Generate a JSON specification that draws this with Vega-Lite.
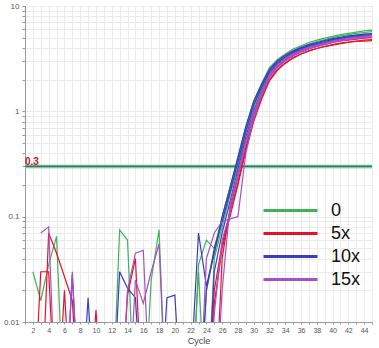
{
"$schema":"https://vega.github.io/schema/vega-lite/v6.json",
"width":347,"height":316,
"autosize":"none",
"padding":{"left":25,"top":6,"right":7,"bottom":26},
"background":"white",
"config":{"view":{"stroke":"#bbbbbb"},"font":"Liberation Sans",
 "axisX":{"labelOverlap":false,"labelFlush":false,"labelFontSize":7,"labelColor":"#555555","tickSize":2,"tickColor":"#999999","domainColor":"#999999","labelPadding":2,"gridColor":"#ebebeb","titleFontSize":9,"titleFontWeight":"normal","titleColor":"#444444","titlePadding":3},
 "axisY":{"labelOverlap":false,"labelFontSize":8,"labelColor":"#555555","tickSize":3,"tickColor":"#999999","domainColor":"#999999","labelPadding":3,"gridColor":"#ebebeb"}},
"datasets":{
"curves":[
{"s":"G1","g":"0","c":2,"v":0.03},{"s":"G1","g":"0","c":3,"v":0.016},{"s":"G1","g":"0","c":4,"v":0.035},{"s":"G1","g":"0","c":5,"v":0.065},{"s":"G1","g":"0","c":6,"v":0.001},{"s":"G1","g":"0","c":23,"v":0.001},{"s":"G1","g":"0","c":24,"v":0.02},{"s":"G1","g":"0","c":25,"v":0.045},{"s":"G1","g":"0","c":26,"v":0.09},{"s":"G1","g":"0","c":27,"v":0.18},{"s":"G1","g":"0","c":28,"v":0.34},{"s":"G1","g":"0","c":29,"v":0.7},{"s":"G1","g":"0","c":30,"v":1.25},{"s":"G1","g":"0","c":31,"v":1.85},{"s":"G1","g":"0","c":32,"v":2.6},{"s":"G1","g":"0","c":33,"v":3.1},{"s":"G1","g":"0","c":34,"v":3.5},{"s":"G1","g":"0","c":35,"v":3.9},{"s":"G1","g":"0","c":36,"v":4.2},{"s":"G1","g":"0","c":37,"v":4.5},{"s":"G1","g":"0","c":38,"v":4.75},{"s":"G1","g":"0","c":39,"v":4.95},{"s":"G1","g":"0","c":40,"v":5.15},{"s":"G1","g":"0","c":41,"v":5.35},{"s":"G1","g":"0","c":42,"v":5.5},{"s":"G1","g":"0","c":43,"v":5.65},{"s":"G1","g":"0","c":44,"v":5.8},{"s":"G1","g":"0","c":45,"v":5.9},
{"s":"G2","g":"0","c":12,"v":0.001},{"s":"G2","g":"0","c":13,"v":0.075},{"s":"G2","g":"0","c":14,"v":0.06},{"s":"G2","g":"0","c":15,"v":0.001},{"s":"G2","g":"0","c":16,"v":0.001},{"s":"G2","g":"0","c":17,"v":0.025},{"s":"G2","g":"0","c":18,"v":0.075},{"s":"G2","g":"0","c":19,"v":0.001},{"s":"G2","g":"0","c":22,"v":0.001},{"s":"G2","g":"0","c":23,"v":0.035},{"s":"G2","g":"0","c":24,"v":0.06},{"s":"G2","g":"0","c":25,"v":0.05},{"s":"G2","g":"0","c":26,"v":0.1},{"s":"G2","g":"0","c":27,"v":0.19},{"s":"G2","g":"0","c":28,"v":0.36},{"s":"G2","g":"0","c":29,"v":0.7},{"s":"G2","g":"0","c":30,"v":1.2},{"s":"G2","g":"0","c":31,"v":1.75},{"s":"G2","g":"0","c":32,"v":2.5},{"s":"G2","g":"0","c":33,"v":3.0},{"s":"G2","g":"0","c":34,"v":3.4},{"s":"G2","g":"0","c":35,"v":3.75},{"s":"G2","g":"0","c":36,"v":4.05},{"s":"G2","g":"0","c":37,"v":4.35},{"s":"G2","g":"0","c":38,"v":4.6},{"s":"G2","g":"0","c":39,"v":4.8},{"s":"G2","g":"0","c":40,"v":5.0},{"s":"G2","g":"0","c":41,"v":5.2},{"s":"G2","g":"0","c":42,"v":5.35},{"s":"G2","g":"0","c":43,"v":5.5},{"s":"G2","g":"0","c":44,"v":5.6},{"s":"G2","g":"0","c":45,"v":5.7},
{"s":"G3","g":"0","c":22,"v":0.001},{"s":"G3","g":"0","c":23,"v":0.03},{"s":"G3","g":"0","c":24,"v":0.001},{"s":"G3","g":"0","c":25,"v":0.04},{"s":"G3","g":"0","c":26,"v":0.08},{"s":"G3","g":"0","c":27,"v":0.16},{"s":"G3","g":"0","c":28,"v":0.3},{"s":"G3","g":"0","c":29,"v":0.62},{"s":"G3","g":"0","c":30,"v":1.1},{"s":"G3","g":"0","c":31,"v":1.65},{"s":"G3","g":"0","c":32,"v":2.4},{"s":"G3","g":"0","c":33,"v":2.9},{"s":"G3","g":"0","c":34,"v":3.3},{"s":"G3","g":"0","c":35,"v":3.65},{"s":"G3","g":"0","c":36,"v":3.95},{"s":"G3","g":"0","c":37,"v":4.2},{"s":"G3","g":"0","c":38,"v":4.45},{"s":"G3","g":"0","c":39,"v":4.65},{"s":"G3","g":"0","c":40,"v":4.85},{"s":"G3","g":"0","c":41,"v":5.0},{"s":"G3","g":"0","c":42,"v":5.15},{"s":"G3","g":"0","c":43,"v":5.3},{"s":"G3","g":"0","c":44,"v":5.4},{"s":"G3","g":"0","c":45,"v":5.5},
{"s":"R1","g":"5x","c":2,"v":0.001},{"s":"R1","g":"5x","c":3,"v":0.03},{"s":"R1","g":"5x","c":4,"v":0.03},{"s":"R1","g":"5x","c":5,"v":0.001},{"s":"R1","g":"5x","c":6,"v":0.02},{"s":"R1","g":"5x","c":7,"v":0.001},{"s":"R1","g":"5x","c":9,"v":0.001},{"s":"R1","g":"5x","c":10,"v":0.013},{"s":"R1","g":"5x","c":11,"v":0.001},{"s":"R1","g":"5x","c":24,"v":0.001},{"s":"R1","g":"5x","c":25,"v":0.02},{"s":"R1","g":"5x","c":26,"v":0.055},{"s":"R1","g":"5x","c":27,"v":0.11},{"s":"R1","g":"5x","c":28,"v":0.21},{"s":"R1","g":"5x","c":29,"v":0.45},{"s":"R1","g":"5x","c":30,"v":0.85},{"s":"R1","g":"5x","c":31,"v":1.35},{"s":"R1","g":"5x","c":32,"v":2.0},{"s":"R1","g":"5x","c":33,"v":2.5},{"s":"R1","g":"5x","c":34,"v":2.9},{"s":"R1","g":"5x","c":35,"v":3.25},{"s":"R1","g":"5x","c":36,"v":3.5},{"s":"R1","g":"5x","c":37,"v":3.75},{"s":"R1","g":"5x","c":38,"v":3.95},{"s":"R1","g":"5x","c":39,"v":4.1},{"s":"R1","g":"5x","c":40,"v":4.25},{"s":"R1","g":"5x","c":41,"v":4.4},{"s":"R1","g":"5x","c":42,"v":4.5},{"s":"R1","g":"5x","c":43,"v":4.6},{"s":"R1","g":"5x","c":44,"v":4.65},{"s":"R1","g":"5x","c":45,"v":4.7},
{"s":"R2","g":"5x","c":3,"v":0.001},{"s":"R2","g":"5x","c":4,"v":0.07},{"s":"R2","g":"5x","c":5,"v":0.045},{"s":"R2","g":"5x","c":6,"v":0.027},{"s":"R2","g":"5x","c":7,"v":0.016},{"s":"R2","g":"5x","c":8,"v":0.001},{"s":"R2","g":"5x","c":13,"v":0.001},{"s":"R2","g":"5x","c":14,"v":0.018},{"s":"R2","g":"5x","c":15,"v":0.04},{"s":"R2","g":"5x","c":16,"v":0.001},{"s":"R2","g":"5x","c":24,"v":0.001},{"s":"R2","g":"5x","c":25,"v":0.015},{"s":"R2","g":"5x","c":26,"v":0.05},{"s":"R2","g":"5x","c":27,"v":0.1},{"s":"R2","g":"5x","c":28,"v":0.2},{"s":"R2","g":"5x","c":29,"v":0.42},{"s":"R2","g":"5x","c":30,"v":0.8},{"s":"R2","g":"5x","c":31,"v":1.3},{"s":"R2","g":"5x","c":32,"v":1.95},{"s":"R2","g":"5x","c":33,"v":2.45},{"s":"R2","g":"5x","c":34,"v":2.85},{"s":"R2","g":"5x","c":35,"v":3.2},{"s":"R2","g":"5x","c":36,"v":3.5},{"s":"R2","g":"5x","c":37,"v":3.75},{"s":"R2","g":"5x","c":38,"v":3.95},{"s":"R2","g":"5x","c":39,"v":4.15},{"s":"R2","g":"5x","c":40,"v":4.3},{"s":"R2","g":"5x","c":41,"v":4.45},{"s":"R2","g":"5x","c":42,"v":4.55},{"s":"R2","g":"5x","c":43,"v":4.65},{"s":"R2","g":"5x","c":44,"v":4.75},{"s":"R2","g":"5x","c":45,"v":4.8},
{"s":"R3","g":"5x","c":25,"v":0.001},{"s":"R3","g":"5x","c":26,"v":0.04},{"s":"R3","g":"5x","c":27,"v":0.12},{"s":"R3","g":"5x","c":28,"v":0.24},{"s":"R3","g":"5x","c":29,"v":0.5},{"s":"R3","g":"5x","c":30,"v":0.92},{"s":"R3","g":"5x","c":31,"v":1.45},{"s":"R3","g":"5x","c":32,"v":2.15},{"s":"R3","g":"5x","c":33,"v":2.65},{"s":"R3","g":"5x","c":34,"v":3.05},{"s":"R3","g":"5x","c":35,"v":3.4},{"s":"R3","g":"5x","c":36,"v":3.7},{"s":"R3","g":"5x","c":37,"v":3.95},{"s":"R3","g":"5x","c":38,"v":4.15},{"s":"R3","g":"5x","c":39,"v":4.35},{"s":"R3","g":"5x","c":40,"v":4.5},{"s":"R3","g":"5x","c":41,"v":4.65},{"s":"R3","g":"5x","c":42,"v":4.75},{"s":"R3","g":"5x","c":43,"v":4.85},{"s":"R3","g":"5x","c":44,"v":4.95},{"s":"R3","g":"5x","c":45,"v":5.0},
{"s":"B1","g":"10x","c":6,"v":0.001},{"s":"B1","g":"10x","c":7,"v":0.028},{"s":"B1","g":"10x","c":8,"v":0.001},{"s":"B1","g":"10x","c":9,"v":0.017},{"s":"B1","g":"10x","c":10,"v":0.001},{"s":"B1","g":"10x","c":12,"v":0.001},{"s":"B1","g":"10x","c":13,"v":0.03},{"s":"B1","g":"10x","c":14,"v":0.021},{"s":"B1","g":"10x","c":15,"v":0.017},{"s":"B1","g":"10x","c":16,"v":0.001},{"s":"B1","g":"10x","c":18,"v":0.001},{"s":"B1","g":"10x","c":19,"v":0.017},{"s":"B1","g":"10x","c":20,"v":0.018},{"s":"B1","g":"10x","c":21,"v":0.001},{"s":"B1","g":"10x","c":22,"v":0.003},{"s":"B1","g":"10x","c":23,"v":0.07},{"s":"B1","g":"10x","c":24,"v":0.022},{"s":"B1","g":"10x","c":25,"v":0.045},{"s":"B1","g":"10x","c":26,"v":0.1},{"s":"B1","g":"10x","c":27,"v":0.19},{"s":"B1","g":"10x","c":28,"v":0.37},{"s":"B1","g":"10x","c":29,"v":0.72},{"s":"B1","g":"10x","c":30,"v":1.25},{"s":"B1","g":"10x","c":31,"v":1.8},{"s":"B1","g":"10x","c":32,"v":2.5},{"s":"B1","g":"10x","c":33,"v":3.0},{"s":"B1","g":"10x","c":34,"v":3.4},{"s":"B1","g":"10x","c":35,"v":3.75},{"s":"B1","g":"10x","c":36,"v":4.05},{"s":"B1","g":"10x","c":37,"v":4.3},{"s":"B1","g":"10x","c":38,"v":4.5},{"s":"B1","g":"10x","c":39,"v":4.7},{"s":"B1","g":"10x","c":40,"v":4.9},{"s":"B1","g":"10x","c":41,"v":5.05},{"s":"B1","g":"10x","c":42,"v":5.2},{"s":"B1","g":"10x","c":43,"v":5.3},{"s":"B1","g":"10x","c":44,"v":5.4},{"s":"B1","g":"10x","c":45,"v":5.45},
{"s":"B2","g":"10x","c":23,"v":0.001},{"s":"B2","g":"10x","c":24,"v":0.02},{"s":"B2","g":"10x","c":25,"v":0.05},{"s":"B2","g":"10x","c":26,"v":0.09},{"s":"B2","g":"10x","c":27,"v":0.17},{"s":"B2","g":"10x","c":28,"v":0.33},{"s":"B2","g":"10x","c":29,"v":0.65},{"s":"B2","g":"10x","c":30,"v":1.15},{"s":"B2","g":"10x","c":31,"v":1.7},{"s":"B2","g":"10x","c":32,"v":2.4},{"s":"B2","g":"10x","c":33,"v":2.9},{"s":"B2","g":"10x","c":34,"v":3.3},{"s":"B2","g":"10x","c":35,"v":3.65},{"s":"B2","g":"10x","c":36,"v":3.95},{"s":"B2","g":"10x","c":37,"v":4.2},{"s":"B2","g":"10x","c":38,"v":4.4},{"s":"B2","g":"10x","c":39,"v":4.6},{"s":"B2","g":"10x","c":40,"v":4.8},{"s":"B2","g":"10x","c":41,"v":4.95},{"s":"B2","g":"10x","c":42,"v":5.1},{"s":"B2","g":"10x","c":43,"v":5.2},{"s":"B2","g":"10x","c":44,"v":5.3},{"s":"B2","g":"10x","c":45,"v":5.35},
{"s":"B3","g":"10x","c":24,"v":0.001},{"s":"B3","g":"10x","c":25,"v":0.03},{"s":"B3","g":"10x","c":26,"v":0.07},{"s":"B3","g":"10x","c":27,"v":0.14},{"s":"B3","g":"10x","c":28,"v":0.28},{"s":"B3","g":"10x","c":29,"v":0.57},{"s":"B3","g":"10x","c":30,"v":1.02},{"s":"B3","g":"10x","c":31,"v":1.55},{"s":"B3","g":"10x","c":32,"v":2.3},{"s":"B3","g":"10x","c":33,"v":2.8},{"s":"B3","g":"10x","c":34,"v":3.2},{"s":"B3","g":"10x","c":35,"v":3.55},{"s":"B3","g":"10x","c":36,"v":3.85},{"s":"B3","g":"10x","c":37,"v":4.1},{"s":"B3","g":"10x","c":38,"v":4.3},{"s":"B3","g":"10x","c":39,"v":4.5},{"s":"B3","g":"10x","c":40,"v":4.7},{"s":"B3","g":"10x","c":41,"v":4.85},{"s":"B3","g":"10x","c":42,"v":5.0},{"s":"B3","g":"10x","c":43,"v":5.1},{"s":"B3","g":"10x","c":44,"v":5.2},{"s":"B3","g":"10x","c":45,"v":5.25},
{"s":"P1","g":"15x","c":3,"v":0.07},{"s":"P1","g":"15x","c":4,"v":0.08},{"s":"P1","g":"15x","c":5,"v":0.001},{"s":"P1","g":"15x","c":13,"v":0.001},{"s":"P1","g":"15x","c":14,"v":0.02},{"s":"P1","g":"15x","c":15,"v":0.045},{"s":"P1","g":"15x","c":16,"v":0.048},{"s":"P1","g":"15x","c":17,"v":0.001},{"s":"P1","g":"15x","c":24,"v":0.001},{"s":"P1","g":"15x","c":25,"v":0.012},{"s":"P1","g":"15x","c":26,"v":0.06},{"s":"P1","g":"15x","c":27,"v":0.11},{"s":"P1","g":"15x","c":28,"v":0.24},{"s":"P1","g":"15x","c":29,"v":0.5},{"s":"P1","g":"15x","c":30,"v":0.95},{"s":"P1","g":"15x","c":31,"v":1.5},{"s":"P1","g":"15x","c":32,"v":2.2},{"s":"P1","g":"15x","c":33,"v":2.7},{"s":"P1","g":"15x","c":34,"v":3.1},{"s":"P1","g":"15x","c":35,"v":3.45},{"s":"P1","g":"15x","c":36,"v":3.75},{"s":"P1","g":"15x","c":37,"v":4.0},{"s":"P1","g":"15x","c":38,"v":4.2},{"s":"P1","g":"15x","c":39,"v":4.4},{"s":"P1","g":"15x","c":40,"v":4.6},{"s":"P1","g":"15x","c":41,"v":4.75},{"s":"P1","g":"15x","c":42,"v":4.9},{"s":"P1","g":"15x","c":43,"v":5.0},{"s":"P1","g":"15x","c":44,"v":5.1},{"s":"P1","g":"15x","c":45,"v":5.2},
{"s":"P2","g":"15x","c":6,"v":0.001},{"s":"P2","g":"15x","c":7,"v":0.03},{"s":"P2","g":"15x","c":8,"v":0.001},{"s":"P2","g":"15x","c":14,"v":0.001},{"s":"P2","g":"15x","c":15,"v":0.025},{"s":"P2","g":"15x","c":16,"v":0.015},{"s":"P2","g":"15x","c":17,"v":0.03},{"s":"P2","g":"15x","c":18,"v":0.055},{"s":"P2","g":"15x","c":19,"v":0.001},{"s":"P2","g":"15x","c":25,"v":0.001},{"s":"P2","g":"15x","c":26,"v":0.02},{"s":"P2","g":"15x","c":27,"v":0.13},{"s":"P2","g":"15x","c":28,"v":0.26},{"s":"P2","g":"15x","c":29,"v":0.53},{"s":"P2","g":"15x","c":30,"v":0.98},{"s":"P2","g":"15x","c":31,"v":1.5},{"s":"P2","g":"15x","c":32,"v":2.25},{"s":"P2","g":"15x","c":33,"v":2.75},{"s":"P2","g":"15x","c":34,"v":3.15},{"s":"P2","g":"15x","c":35,"v":3.5},{"s":"P2","g":"15x","c":36,"v":3.8},{"s":"P2","g":"15x","c":37,"v":4.05},{"s":"P2","g":"15x","c":38,"v":4.25},{"s":"P2","g":"15x","c":39,"v":4.45},{"s":"P2","g":"15x","c":40,"v":4.65},{"s":"P2","g":"15x","c":41,"v":4.8},{"s":"P2","g":"15x","c":42,"v":4.95},{"s":"P2","g":"15x","c":43,"v":5.05},{"s":"P2","g":"15x","c":44,"v":5.15},{"s":"P2","g":"15x","c":45,"v":5.25},
{"s":"P3","g":"15x","c":23,"v":0.001},{"s":"P3","g":"15x","c":24,"v":0.04},{"s":"P3","g":"15x","c":25,"v":0.07},{"s":"P3","g":"15x","c":26,"v":0.09},{"s":"P3","g":"15x","c":27,"v":0.095},{"s":"P3","g":"15x","c":28,"v":0.1},{"s":"P3","g":"15x","c":29,"v":0.4},{"s":"P3","g":"15x","c":30,"v":0.85},{"s":"P3","g":"15x","c":31,"v":1.4},{"s":"P3","g":"15x","c":32,"v":2.1},{"s":"P3","g":"15x","c":33,"v":2.6},{"s":"P3","g":"15x","c":34,"v":3.0},{"s":"P3","g":"15x","c":35,"v":3.35},{"s":"P3","g":"15x","c":36,"v":3.65},{"s":"P3","g":"15x","c":37,"v":3.9},{"s":"P3","g":"15x","c":38,"v":4.1},{"s":"P3","g":"15x","c":39,"v":4.3},{"s":"P3","g":"15x","c":40,"v":4.5},{"s":"P3","g":"15x","c":41,"v":4.65},{"s":"P3","g":"15x","c":42,"v":4.8},{"s":"P3","g":"15x","c":43,"v":4.9},{"s":"P3","g":"15x","c":44,"v":5.0},{"s":"P3","g":"15x","c":45,"v":5.1}
],
"thr":[{"t":0.3,"c":1,"label":"0.3"}]
},
"layer":[
{"data":{"name":"thr"},"mark":{"type":"rule","stroke":"#a6dcc6","strokeWidth":4},
 "encoding":{"y":{"field":"t","type":"quantitative","scale":{"type":"log","domain":[0.01,10],"nice":false},
   "axis":{"values":[0.01,0.02,0.03,0.04,0.05,0.06,0.07,0.08,0.09,0.1,0.2,0.3,0.4,0.5,0.6,0.7,0.8,0.9,1,2,3,4,5,6,7,8,9,10],
     "format":"~g","labelExpr":"datum.value == 0.01 || datum.value == 0.1 || datum.value == 1 || datum.value == 10 ? datum.label : ''",
     "title":null}}}},
{"data":{"name":"thr"},"mark":{"type":"rule","stroke":"#2b7d5c","strokeWidth":1.6},
 "encoding":{"y":{"field":"t","type":"quantitative"}}},
{"data":{"name":"curves"},"mark":{"type":"line","strokeWidth":1.2,"clip":true},
 "encoding":{
  "x":{"field":"c","type":"quantitative","scale":{"domain":[1,45],"nice":false},
    "axis":{"values":[1,2,3,4,5,6,7,8,9,10,11,12,13,14,15,16,17,18,19,20,21,22,23,24,25,26,27,28,29,30,31,32,33,34,35,36,37,38,39,40,41,42,43,44,45],
      "labelExpr":"datum.value % 2 == 0 ? datum.label : ''","title":"Cycle"}},
  "y":{"field":"v","type":"quantitative"},
  "detail":{"field":"s"},
  "color":{"field":"g","type":"nominal","scale":{"domain":["0","5x","10x","15x"],"range":["#3cb45a","#e8112d","#3c3cc0","#a650c8"]},
    "legend":{"title":null,"orient":"none","legendX":255,"legendY":194,"symbolType":"M-3,0H3","symbolSize":324,"symbolStrokeWidth":3,
      "labelFontSize":18,"labelColor":"#111111","labelOffset":30,"rowPadding":3}}
 }},
{"data":{"name":"thr"},"mark":{"type":"text","color":"#cc1122","fontWeight":"bold","fontSize":10,"align":"left","baseline":"bottom","dy":1},
 "encoding":{"x":{"field":"c","type":"quantitative",
    "axis":{"values":[1,2,3,4,5,6,7,8,9,10,11,12,13,14,15,16,17,18,19,20,21,22,23,24,25,26,27,28,29,30,31,32,33,34,35,36,37,38,39,40,41,42,43,44,45],
      "labelExpr":"datum.value % 2 == 0 ? datum.label : ''","title":"Cycle"}},
  "y":{"field":"t","type":"quantitative"},"text":{"field":"label"}}}
]
}
